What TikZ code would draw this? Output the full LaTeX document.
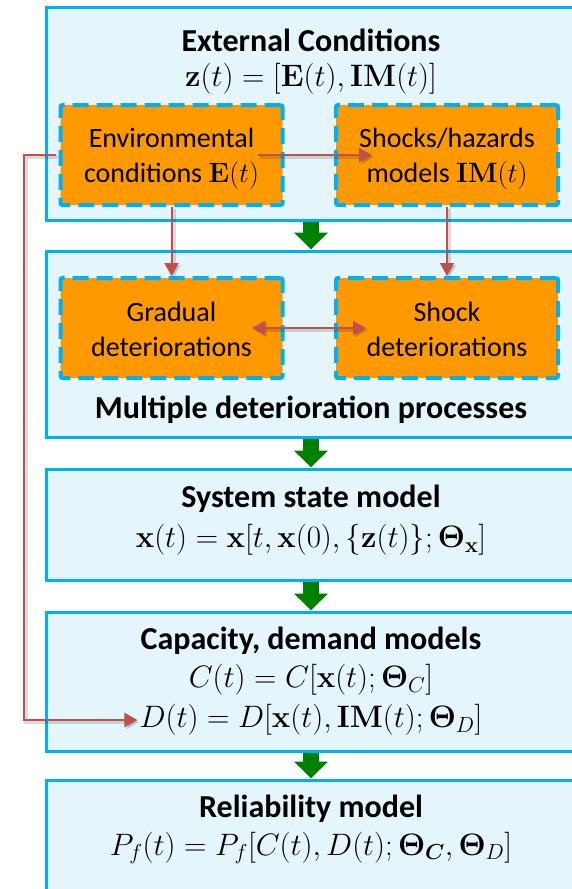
\RequirePackage{fix-cm}
\documentclass[tikz,border=0pt]{standalone}
\usepackage{amsmath}
\usepackage{bm}
\usepackage[no-math]{fontspec}
\setmainfont{Carlito}
\usetikzlibrary{arrows.meta,calc}

\definecolor{boxline}{HTML}{00B0F0}
\definecolor{boxfill}{HTML}{E5F5FC}
\definecolor{procfill}{HTML}{FF9900}
\definecolor{linkred}{HTML}{C0504D}
\definecolor{flowgreen}{HTML}{008000}

\tikzset{
  stage/.style={draw=boxline, line width=3pt, fill=boxfill,
    minimum width=530pt, inner sep=0pt},
  proc/.style={draw=boxline, line width=4pt, dash pattern=on 16pt off 8pt,
    fill=procfill, minimum width=222pt, minimum height=100pt, inner sep=0pt,
    rounded corners=2pt},
  proctext/.style={align=center, inner sep=0pt,
    font=\fontsize{28}{35}\selectfont},
  ttl/.style={font=\fontsize{32}{38}\selectfont\bfseries, inner sep=1pt},
  frm/.style={font=\fontsize{31}{37}\selectfont, inner sep=2pt},
  flow/.style={draw=flowgreen, line width=16pt,
    -{Triangle[length=17pt,width=33pt]}},
  redtip/.tip={Triangle[length=13pt,width=14pt]},
  link/.style={draw=linkred, line width=2pt,
    preaction={draw=black, opacity=0.14, line width=4pt,
      transform canvas={shift={(2pt,-2pt)}}}},
}

\begin{document}
\begin{tikzpicture}[x=1pt,y=-1pt]
\useasboundingbox (0,0) rectangle (572,889);
\clip (0,0) rectangle (572,889);

% stages of the framework
\node[stage, minimum height=213pt] (ext) at (311,113.5) {};
\node[stage, minimum height=186pt] (det) at (311,344) {};
\node[stage, minimum height=111pt] (sys) at (311,524.5) {};
\node[stage, minimum height=139pt] (cap) at (311,681.5) {};
\node[stage, minimum height=120pt] (rel) at (311,840) {};

% flow between stages
\draw[flow] (ext.south) -- (det.north);
\draw[flow] (det.south) -- (sys.north);
\draw[flow] (sys.south) -- (cap.north);
\draw[flow] (cap.south) -- (rel.north);

% external conditions
\node[ttl] (extT) at (311,40) {External Conditions};
\node[frm] (extF) at (311,79) {$\mathbf{z}(t)=[\mathbf{E}(t),\mathbf{IM}(t)]$};
\node[proc] (env) at (171.5,155) {};
\node[proc] (shk) at (447,155) {};
\node[proctext] (envT) at ($(env.center)+(0,4)$) {Environmental\\conditions $\mathbf{E}(t)$};
\node[proctext] (shkT) at ($(shk.center)+(0,4)$) {Shocks/hazards\\models $\mathbf{IM}(t)$};

% deterioration processes
\node[proc] (grad) at (171.5,328) {};
\node[proc] (shd) at (447,328) {};
\node[proctext] (gradT) at ($(grad.center)+(0,1)$) {Gradual\\deteriorations};
\node[proctext] (shdT) at ($(shd.center)+(0,1)$) {Shock\\deteriorations};
\node[ttl] (detT) at (311,410) {Multiple deterioration processes};

% system state
\node[ttl] (sysT) at (311,499) {System state model};
\node[frm] (sysF) at (311,540)
  {$\mathbf{x}(t)=\mathbf{x}[t,\mathbf{x}(0),\{\mathbf{z}(t)\};\bm{\Theta}_{\mathbf{x}}]$};

% capacity and demand
\node[ttl] (capT) at (311,641) {Capacity, demand models};
\node[frm] (cline) at (311,680) {$C(t)=C[\mathbf{x}(t);\bm{\Theta}_C]$};
\node[frm] (dline) at (311,720) {$D(t)=D[\mathbf{x}(t),\mathbf{IM}(t);\bm{\Theta}_D]$};

% reliability
\node[ttl] (relT) at (311,809) {Reliability model};
\node[frm] (relF) at (311,848)
  {$P_f(t)=P_f[C(t),D(t);\bm{\Theta}_{\bm{C}},\bm{\Theta}_D]$};

% interactions
\draw[link, -redtip] ($(env.center)+(86,0)$) -- ($(shk.center)+(-75,0)$);
\draw[link, -redtip] (env.south) -- (grad.north);
\draw[link, -redtip] (shk.south) -- (shd.north);
\draw[link, redtip-redtip] ($(grad.center)+(80.5,0)$) -- ($(shd.center)+(-81,0)$);
\draw[link, -redtip] ($(env.west)+(-3,0)$) -- ++(-32,0) |- (dline.west);
\end{tikzpicture}
\end{document}
